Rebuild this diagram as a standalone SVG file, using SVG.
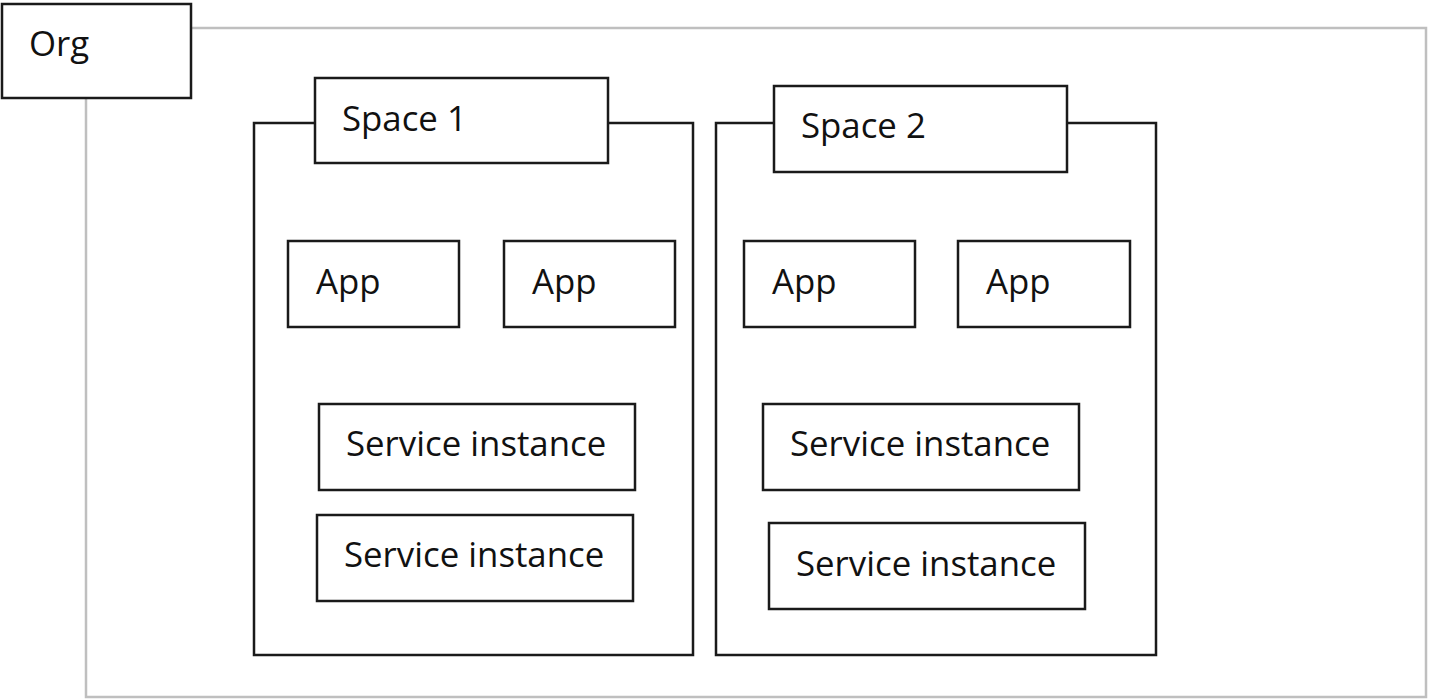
<svg xmlns="http://www.w3.org/2000/svg" width="1429" height="700" viewBox="0 0 1429 700">
<style>
.b{fill:#fff;stroke:#1a1a1a;stroke-width:2.5}
.g{fill:#fff;stroke:#bfbfbf;stroke-width:2.5}
text{font-family:"Open Sans","Noto Sans",sans-serif;font-size:34.8px;fill:#111}
</style>
<rect width="1429" height="700" fill="#fff"/>
<g id="org">
<rect class="g" x="86" y="28" width="1340" height="669"/>
<rect class="b" x="2" y="4" width="189" height="94"/>
<text x="29" y="56">Org</text>
</g>
<g id="space1">
<rect class="b" x="254" y="123" width="439" height="532"/>
<rect class="b" x="315" y="78" width="293" height="85"/>
<text x="342" y="131">Space 1</text>
</g>
<g id="space2">
<rect class="b" x="716" y="123" width="440" height="532"/>
<rect class="b" x="774" y="86" width="293" height="86"/>
<text x="801" y="138">Space 2</text>
</g>
<g id="app1"><rect class="b" x="288" y="241" width="171" height="86"/><text x="316" y="294">App</text></g>
<g id="app2"><rect class="b" x="504" y="241" width="171" height="86"/><text x="532" y="294">App</text></g>
<g id="app3"><rect class="b" x="744" y="241" width="171" height="86"/><text x="772" y="294">App</text></g>
<g id="app4"><rect class="b" x="958" y="241" width="172" height="86"/><text x="986" y="294">App</text></g>
<g id="svc1"><rect class="b" x="319" y="404" width="316" height="86"/><text x="346" y="456">Service instance</text></g>
<g id="svc2"><rect class="b" x="317" y="515" width="316" height="86"/><text x="344" y="567">Service instance</text></g>
<g id="svc3"><rect class="b" x="763" y="404" width="316" height="86"/><text x="790" y="456">Service instance</text></g>
<g id="svc4"><rect class="b" x="769" y="523" width="316" height="86"/><text x="796" y="576">Service instance</text></g>
<g id="connectors"></g>
</svg>
